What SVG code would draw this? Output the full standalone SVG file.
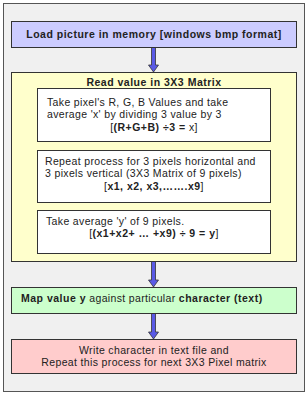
<svg xmlns="http://www.w3.org/2000/svg" width="308" height="394" viewBox="0 0 308 394">
<style>
text{font-family:"Liberation Sans",Arial,sans-serif;font-size:10.5px;fill:#222;letter-spacing:0.35px}
.b{font-weight:bold;letter-spacing:0.5px}
.c{text-anchor:middle}
.box{stroke:#333;stroke-width:1}
.arrow{fill:#5a5ae6;stroke:#333;stroke-width:0.8}
</style>
<rect x="3.5" y="3.5" width="301" height="388" fill="#f0f0f0" stroke="#555" stroke-width="1"/>
<g id="connectors">
<path class="arrow" d="M151.5 47.5 H155.5 V65 H158.5 L153.5 72 L148.5 65 H151.5 Z"/>
<path class="arrow" d="M151.5 261.5 H155.5 V280 H158.5 L153.5 287 L148.5 280 H151.5 Z"/>
<path class="arrow" d="M151.5 313.5 H155.5 V332 H158.5 L153.5 339 L148.5 332 H151.5 Z"/>
</g>
<g id="load">
<rect class="box" x="11.5" y="21.5" width="285" height="26" fill="#ccccff"/>
<text class="b c" x="154" y="37.5">Load picture in memory [windows bmp format]</text>
</g>
<g id="read">
<rect class="box" x="11.5" y="72.5" width="285" height="189" fill="#ffffcc"/>
<text class="b c" x="154" y="86">Read value in 3X3 Matrix</text>
</g>
<g id="step1">
<rect class="box" x="37.5" y="88.5" width="233" height="53" fill="#ffffff"/>
<text x="47" y="106">Take pixel's R, G, B Values and take</text>
<text x="47" y="118">average 'x' by dividing 3 value by 3</text>
<text class="c" x="154" y="130.5">[<tspan class="b">(R+G+B) ÷3 =</tspan> x]</text>
</g>
<g id="step2">
<rect class="box" x="37.5" y="150.5" width="233" height="52" fill="#ffffff"/>
<text x="45" y="165">Repeat process for 3 pixels horizontal and</text>
<text x="45" y="177">3 pixels vertical (3X3 Matrix of 9 pixels)</text>
<text class="c" x="154" y="190">[<tspan class="b">x1, x2, x3,…….x9</tspan>]</text>
</g>
<g id="step3">
<rect class="box" x="37.5" y="210.5" width="233" height="43" fill="#ffffff"/>
<text x="46" y="225">Take average 'y' of 9 pixels.</text>
<text class="c" x="154" y="237">[<tspan class="b">(x1+x2+ … +x9) ÷ 9 = y</tspan>]</text>
</g>
<g id="map">
<rect class="box" x="11.5" y="287.5" width="285" height="26" fill="#ccffcc"/>
<text x="21" y="302"><tspan class="b">Map value y</tspan> against particular <tspan class="b">character (text)</tspan></text>
</g>
<g id="write">
<rect class="box" x="11.5" y="339.5" width="285" height="34" fill="#ffcccc"/>
<text class="c" x="154" y="354">Write character in text file and</text>
<text class="c" x="154" y="366">Repeat this process for next 3X3 Pixel matrix</text>
</g>
</svg>
